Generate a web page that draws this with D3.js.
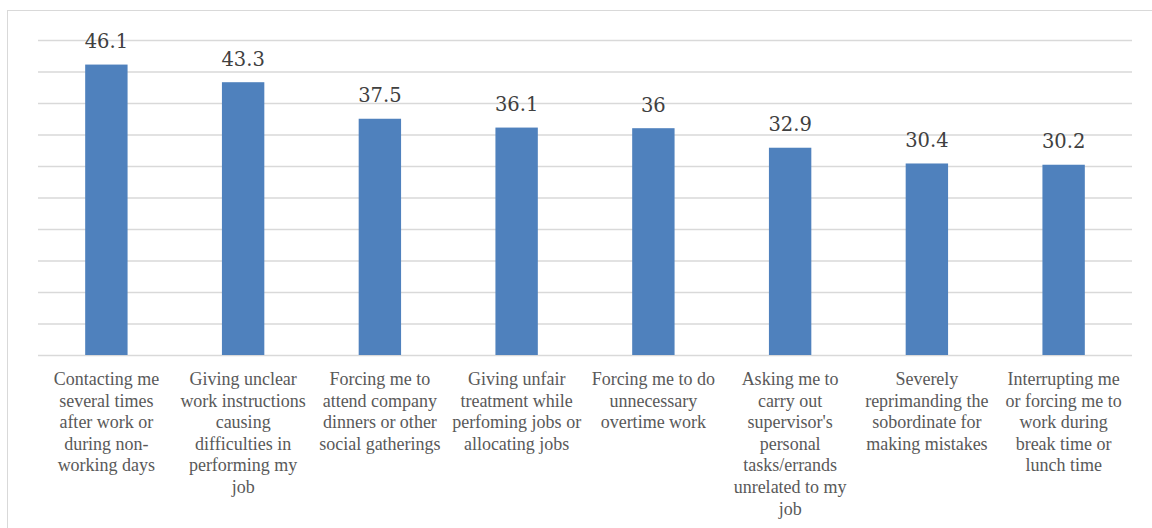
<!DOCTYPE html>
<html>
<head>
<meta charset="utf-8">
<script src="https://cdn.jsdelivr.net/npm/d3@7"></script>
<style>
  html, body { margin: 0; padding: 0; background: #fff; }
  #wrapper { width: 1152px; height: 528px; overflow: hidden; }
</style>
</head>
<body>
<div id="wrapper"></div>
<script>
// categories, one line per entry after splitting on "|"
const categories = [
    "Contacting me|several times|after work or|during non-|working days",
    "Giving unclear|work instructions|causing|difficulties in|performing my|job",
    "Forcing me to|attend company|dinners or other|social gatherings",
    "Giving unfair|treatment while|perfoming jobs or|allocating jobs",
    "Forcing me to do|unnecessary|overtime work",
    "Asking me to|carry out|supervisor's|personal|tasks/errands|unrelated to my|job",
    "Severely|reprimanding the|sobordinate for|making mistakes",
    "Interrupting me|or forcing me to|work during|break time or|lunch time"
];
const values = [46.1, 43.3, 37.5, 36.1, 36, 32.9, 30.4, 30.2];
const yTicks = [0, 5, 10, 15, 20, 25, 30, 35, 40, 45, 50];

function buildPlot() {
    const dimension = {
        width: 1152,
        height: 528,
        margin: { top: 40, left: 38, right: 20, bottom: 173 }
    };
    dimension.boundedWidth = dimension.width - dimension.margin.left - dimension.margin.right;
    dimension.boundedHeight = dimension.height - dimension.margin.top - dimension.margin.bottom;

    const svg = d3.select("#wrapper").append("svg")
        .attr("width", dimension.width)
        .attr("height", dimension.height);

    // chart area border (runs off the right and bottom of the picture)
    svg.append("rect")
        .attr("x", 7.5).attr("y", 10.5)
        .attr("width", 1160).attr("height", 540)
        .attr("fill", "none")
        .attr("stroke", "#d9d9d9")
        .attr("stroke-width", 1);

    const bounds = svg.append("g")
        .attr("transform", `translate(${dimension.margin.left},${dimension.margin.top})`);

    const xScaler = d3.scaleBand()
        .domain(d3.range(categories.length))
        .range([0, dimension.boundedWidth])
        .paddingInner(0.69)
        .paddingOuter(0.345);

    const yScaler = d3.scaleLinear()
        .domain([0, 50])
        .range([dimension.boundedHeight, 0]);

    // gridlines
    const yAxisGenerator = d3.axisLeft(yScaler)
        .tickValues(yTicks)
        .tickSize(-dimension.boundedWidth)
        .tickFormat("");
    const yAxis = bounds.append("g").call(yAxisGenerator);
    yAxis.select(".domain").remove();
    yAxis.selectAll(".tick line")
        .attr("stroke", "#d9d9d9")
        .attr("stroke-width", 1.5);

    // bars
    bounds.selectAll("rect.bar")
        .data(values)
        .enter()
        .append("rect")
        .attr("class", "bar")
        .attr("x", (d, i) => xScaler(i))
        .attr("y", (d) => yScaler(d))
        .attr("width", xScaler.bandwidth())
        .attr("height", (d) => dimension.boundedHeight - yScaler(d))
        .attr("fill", "#4f81bd");

    // data labels
    bounds.selectAll("text.value")
        .data(values)
        .enter()
        .append("text")
        .attr("class", "value")
        .attr("x", (d, i) => xScaler(i) + xScaler.bandwidth() / 2)
        .attr("y", (d) => yScaler(d) - 16.5)
        .attr("text-anchor", "middle")
        .attr("font-family", "'DejaVu Serif', serif")
        .attr("font-size", "19.5px")
        .attr("fill", "#404040")
        .text((d) => d);

    // category labels
    const xAxisGenerator = d3.axisBottom(xScaler)
        .tickSize(0)
        .tickFormat("");
    const xAxis = bounds.append("g")
        .attr("transform", `translate(0,${dimension.boundedHeight})`)
        .call(xAxisGenerator);
    xAxis.select(".domain").remove();
    xAxis.selectAll(".tick").each(function(d) {
        const t = d3.select(this).append("text")
            .attr("text-anchor", "middle")
            .attr("font-family", "'Liberation Serif', 'Times New Roman', serif")
            .attr("font-size", "18px")
            .attr("fill", "#595959")
            .attr("y", 30);
        categories[d].split("|").forEach((line, j) => {
            t.append("tspan")
                .attr("x", 0)
                .attr("dy", j === 0 ? 0 : 21.6)
                .text(line);
        });
    });
}

buildPlot()
</script>
</body>
</html>
